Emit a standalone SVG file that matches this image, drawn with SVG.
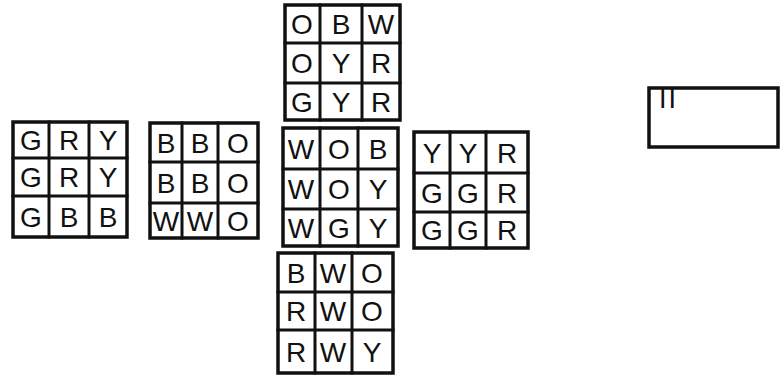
<svg xmlns="http://www.w3.org/2000/svg" width="783" height="381" viewBox="0 0 783 381">
<style>
.g{fill:none;stroke:#111;stroke-width:3;stroke-linecap:square}
.o{fill:none;stroke:#111;stroke-width:3.5}
.t{font-family:"Liberation Sans",Arial,sans-serif;font-size:28px;fill:#111;text-anchor:middle;dominant-baseline:central}
</style>
<rect width="783" height="381" fill="#fff"/>
<g id="face-up">
<rect class="o" x="285" y="5" width="115" height="115"/>
<path class="g" d="M320 5V120M362 5V120M285 43H400M285 83H400"/>
<text class="t" x="302" y="24">O</text><text class="t" x="341" y="24">B</text><text class="t" x="381" y="24">W</text>
<text class="t" x="302" y="63">O</text><text class="t" x="341" y="63">Y</text><text class="t" x="381" y="63">R</text>
<text class="t" x="302" y="102">G</text><text class="t" x="341" y="102">Y</text><text class="t" x="381" y="102">R</text>
</g>
<g id="face-front">
<rect class="o" x="283" y="128" width="115" height="118"/>
<path class="g" d="M320 128V246M358 128V246M283 169H398M283 209H398"/>
<text class="t" x="301" y="149">W</text><text class="t" x="339" y="149">O</text><text class="t" x="378" y="149">B</text>
<text class="t" x="301" y="189">W</text><text class="t" x="339" y="189">O</text><text class="t" x="378" y="189">Y</text>
<text class="t" x="301" y="228">W</text><text class="t" x="339" y="228">G</text><text class="t" x="378" y="228">Y</text>
</g>
<g id="face-down">
<rect class="o" x="278" y="253" width="115" height="120"/>
<path class="g" d="M315 253V373M352 253V373M278 292H393M278 330H393"/>
<text class="t" x="296" y="273">B</text><text class="t" x="333" y="273">W</text><text class="t" x="372" y="273">O</text>
<text class="t" x="296" y="311">R</text><text class="t" x="333" y="311">W</text><text class="t" x="372" y="311">O</text>
<text class="t" x="296" y="352">R</text><text class="t" x="333" y="352">W</text><text class="t" x="372" y="352">Y</text>
</g>
<g id="face-left">
<rect class="o" x="13" y="122" width="114" height="115"/>
<path class="g" d="M49 122V237M89 122V237M13 158H127M13 196H127"/>
<text class="t" x="31" y="140">G</text><text class="t" x="69" y="140">R</text><text class="t" x="108" y="140">Y</text>
<text class="t" x="31" y="177">G</text><text class="t" x="69" y="177">R</text><text class="t" x="108" y="177">Y</text>
<text class="t" x="31" y="217">G</text><text class="t" x="69" y="217">B</text><text class="t" x="108" y="217">B</text>
</g>
<g id="face-back">
<rect class="o" x="150" y="123" width="108" height="115"/>
<path class="g" d="M182 123V238M218 123V238M150 162H258M150 203H258"/>
<text class="t" x="166" y="143">B</text><text class="t" x="200" y="143">B</text><text class="t" x="238" y="143">O</text>
<text class="t" x="166" y="183">B</text><text class="t" x="200" y="183">B</text><text class="t" x="238" y="183">O</text>
<text class="t" x="166" y="221">W</text><text class="t" x="200" y="221">W</text><text class="t" x="238" y="221">O</text>
</g>
<g id="face-right">
<rect class="o" x="414" y="132" width="114" height="116"/>
<path class="g" d="M450 132V248M486 132V248M414 173H528M414 212H528"/>
<text class="t" x="432" y="153">Y</text><text class="t" x="468" y="153">Y</text><text class="t" x="507" y="153">R</text>
<text class="t" x="432" y="193">G</text><text class="t" x="468" y="193">G</text><text class="t" x="507" y="193">R</text>
<text class="t" x="432" y="230">G</text><text class="t" x="468" y="230">G</text><text class="t" x="507" y="230">R</text>
</g>
<g id="box">
<rect class="o" x="649" y="88" width="129" height="59"/>
<text x="659" y="108" font-family="Liberation Sans,Arial,sans-serif" font-size="27" letter-spacing="2" fill="#111">II</text>
</g>
<g id="connectors"/>
</svg>
